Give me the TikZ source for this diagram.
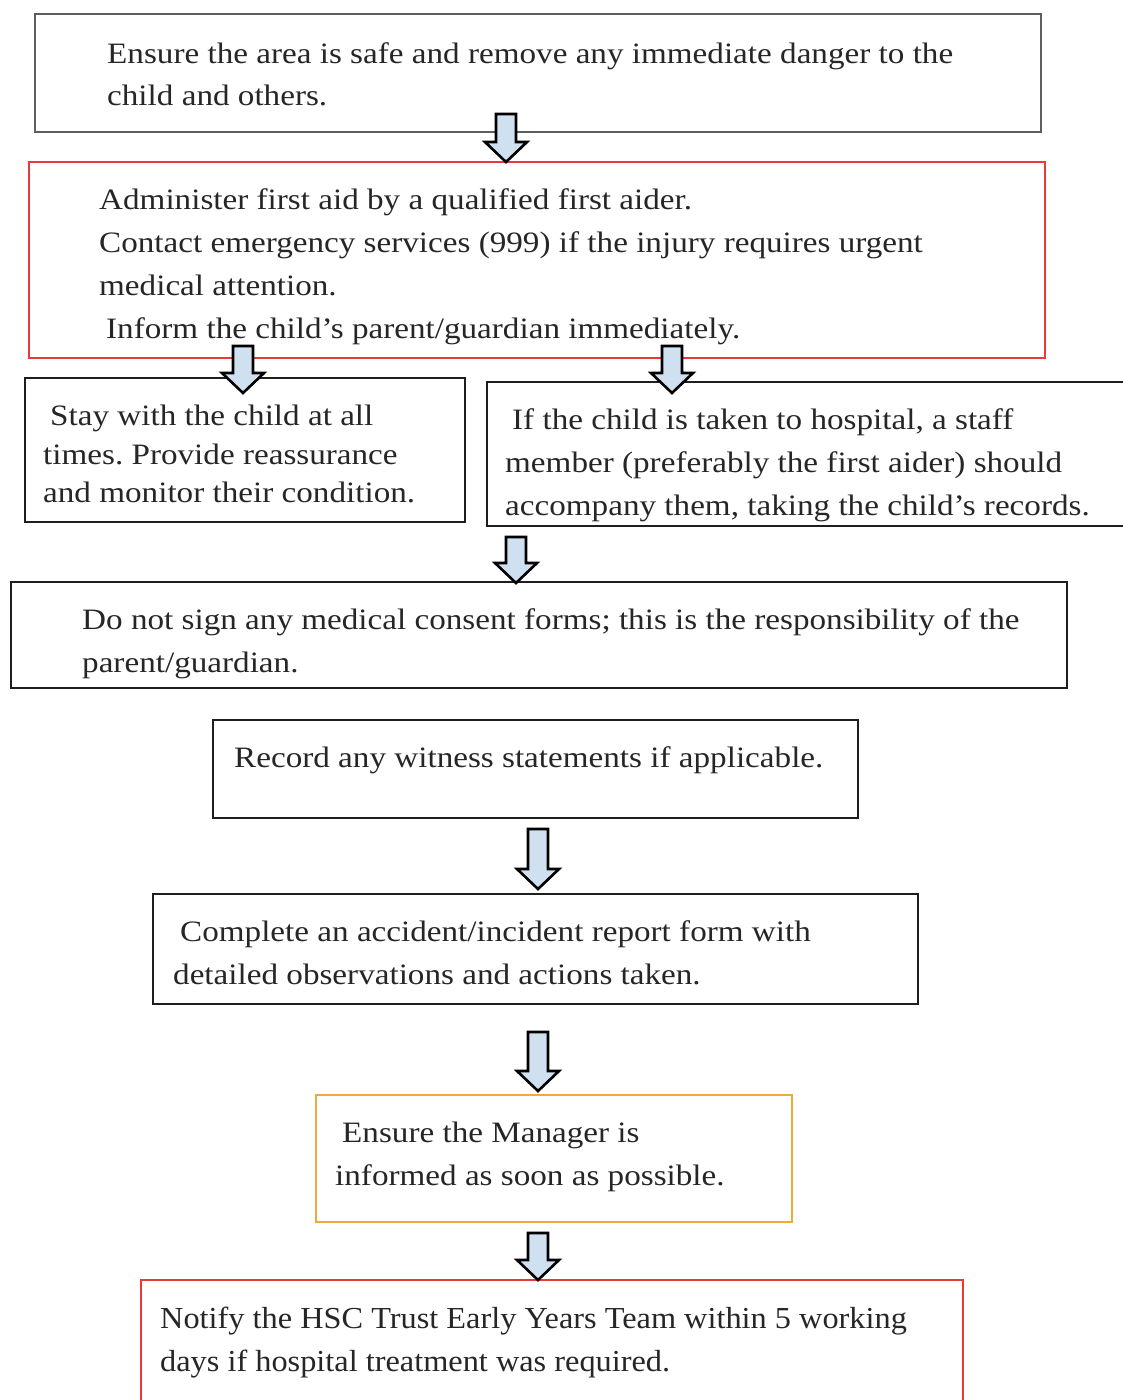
\documentclass[tikz,border=0pt]{standalone}
\usepackage{fontspec}
\setmainfont{Liberation Serif}[FakeStretch=1.12]
\newfontfamily\condserif{Liberation Serif}[FakeStretch=1.06]
\frenchspacing
\usetikzlibrary{calc}
\definecolor{boxred}{HTML}{E83A3A}
\definecolor{boxorange}{HTML}{F2A93B}
\definecolor{boxgray}{HTML}{5E5E5E}
\definecolor{boxblack}{HTML}{1E1E1E}
\definecolor{arrfill}{HTML}{CFE0F1}
\tikzset{
  bx/.style={draw=boxblack, line width=1.6pt, anchor=north west, inner sep=0pt},
  graybx/.style={bx, draw=boxgray},
  redbx/.style={bx, draw=boxred},
  orangebx/.style={bx, draw=boxorange},
  txt/.style={anchor=base west, inner sep=0pt, text=black!85, font=\fontsize{29.6}{42}\selectfont},
  condtxt/.style={txt, font=\condserif\fontsize{30.5}{42}\selectfont},
  blockarr/.style={draw=black, fill=arrfill, line width=2.6pt, line join=miter}
}
\newcommand\blockarrow[2]{%
  \draw[blockarr] let \p1=(#1), \p2=(#2) in
    (\x1-10pt,\y1) -- (\x1+10pt,\y1) -- (\x1+10pt,\y2+20pt) -- (\x1+21pt,\y2+20pt)
    -- (\x1,\y2) -- (\x1-21pt,\y2+20pt) -- (\x1-10pt,\y2+20pt) -- cycle;}
\begin{document}
\begin{tikzpicture}[x=1pt,y=-1pt]
\useasboundingbox[fill=white] (0,0) rectangle (1123,1400);
% boxes
\node[graybx, minimum width=1006pt, minimum height=118pt] (b1) at (34,13) {};
\node[redbx, minimum width=1016pt, minimum height=196pt] (b2) at (28,161) {};
\node[bx, minimum width=440pt, minimum height=144pt] (b3) at (24,377) {};
\node[bx, minimum width=660pt, minimum height=144pt] (b4) at (486,381) {};
\node[bx, minimum width=1056pt, minimum height=106pt] (b5) at (10,581) {};
\node[bx, minimum width=645pt, minimum height=98pt] (b6) at (212,719) {};
\node[bx, minimum width=765pt, minimum height=110pt] (b7) at (152,893) {};
\node[orangebx, minimum width=476pt, minimum height=127pt] (b8) at (315,1094) {};
\node[redbx, minimum width=822pt, minimum height=140pt] (b9) at (140,1279) {};
% texts
\node[txt] (t1a) at (107,63) {Ensure the area is safe and remove any immediate danger to the};
\node[txt] (t1b) at (107,105) {child and others.};
\node[txt] (t2a) at (99,209) {Administer first aid by a qualified first aider.};
\node[txt] (t2b) at (99,252) {Contact emergency services (999) if the injury requires urgent};
\node[txt] (t2c) at (99,295) {medical attention.};
\node[txt] (t2d) at (106,338) {Inform the child’s parent/guardian immediately.};
\node[txt] (t3a) at (50,425) {Stay with the child at all};
\node[txt] (t3b) at (43,464) {times. Provide reassurance};
\node[txt] (t3c) at (43,502) {and monitor their condition.};
\node[txt] (t4a) at (512,429) {If the child is taken to hospital, a staff};
\node[txt] (t4b) at (505,472) {member (preferably the first aider) should};
\node[txt] (t4c) at (505,515) {accompany them, taking the child’s records.};
\node[txt] (t5a) at (82,629) {Do not sign any medical consent forms; this is the responsibility of the};
\node[txt] (t5b) at (82,672) {parent/guardian.};
\node[txt] (t6a) at (234,767) {Record any witness statements if applicable.};
\node[txt] (t7a) at (180,941) {Complete an accident/incident report form with};
\node[txt] (t7b) at (173,984) {detailed observations and actions taken.};
\node[txt] (t8a) at (342,1142) {Ensure the Manager is};
\node[txt] (t8b) at (335,1185) {informed as soon as possible.};
\node[condtxt] (t9a) at (160,1328) {Notify the HSC Trust Early Years Team within 5 working};
\node[condtxt] (t9b) at (160,1371) {days if hospital treatment was required.};
% arrow end points
\coordinate (a1s) at (506,114);  \coordinate (a1e) at (506,162);
\coordinate (a2s) at (243,346);  \coordinate (a2e) at (243,393);
\coordinate (a3s) at (672,346);  \coordinate (a3e) at (672,393);
\coordinate (a4s) at (516,537);  \coordinate (a4e) at (516,583);
\coordinate (a5s) at (538,829);  \coordinate (a5e) at (538,889);
\coordinate (a6s) at (538,1032); \coordinate (a6e) at (538,1091);
\coordinate (a7s) at (538,1233); \coordinate (a7e) at (538,1280);
\blockarrow{a1s}{a1e}
\blockarrow{a2s}{a2e}
\blockarrow{a3s}{a3e}
\blockarrow{a4s}{a4e}
\blockarrow{a5s}{a5e}
\blockarrow{a6s}{a6e}
\blockarrow{a7s}{a7e}
\end{tikzpicture}
\end{document}
